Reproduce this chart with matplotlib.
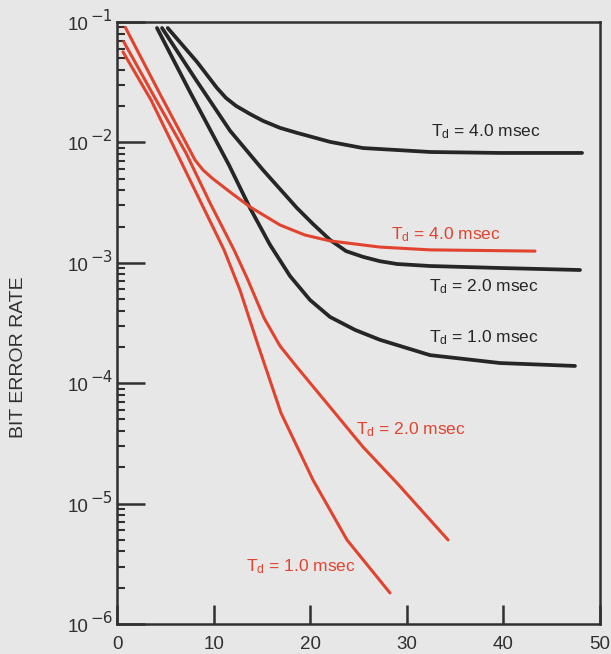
import matplotlib
matplotlib.use("Agg")
import matplotlib.pyplot as plt
from matplotlib.ticker import LogLocator, FixedLocator, NullFormatter, NullLocator

plt.rcParams['font.family'] = ['Liberation Sans', 'DejaVu Sans']
plt.rcParams['mathtext.fontset'] = 'custom'
plt.rcParams['mathtext.rm'] = 'Liberation Sans'
plt.rcParams['mathtext.it'] = 'Liberation Sans'

# ---- data ----
black_1_x = [4.14, 7.56, 11.59, 13.77, 15.84, 17.91, 19.98, 22.05, 24.64, 27.23, 32.40, 39.65, 47.41]
black_1_y = [8.91e-2, 2.62e-2, 6.49e-3, 2.85e-3, 1.41e-3, 7.76e-4, 4.91e-4, 3.55e-4, 2.77e-4, 2.29e-4, 1.71e-4, 1.47e-4, 1.39e-4]

black_2_x = [4.66, 8.18, 11.70, 15.11, 18.63, 20.29, 22.05, 23.71, 25.47, 27.23, 28.99, 32.40, 39.65, 47.93]
black_2_y = [8.91e-2, 3.30e-2, 1.25e-2, 5.90e-3, 2.85e-3, 2.10e-3, 1.55e-3, 1.25e-3, 1.12e-3, 1.03e-3, 9.77e-4, 9.40e-4, 9.05e-4, 8.71e-4]

black_4_x = [5.25, 8.28, 10.35, 11.28, 12.32, 13.77, 15.11, 16.87, 18.63, 22.05, 25.47, 28.99, 32.40, 39.65, 48.14]
black_4_y = [8.91e-2, 4.66e-2, 2.83e-2, 2.34e-2, 2.01e-2, 1.72e-2, 1.51e-2, 1.32e-2, 1.20e-2, 1.01e-2, 8.97e-3, 8.64e-3, 8.32e-3, 8.17e-3, 8.17e-3]

red_4_x = [0.86, 4.45, 7.14, 8.07, 8.90, 9.83, 11.70, 13.77, 16.87, 19.46, 22.05, 27.23, 32.40, 43.27]
red_4_y = [9.03e-2, 2.52e-2, 9.89e-3, 7.15e-3, 5.90e-3, 5.06e-3, 3.87e-3, 2.91e-3, 2.06e-3, 1.70e-3, 1.52e-3, 1.35e-3, 1.28e-3, 1.25e-3]

red_2_x = [0.69, 3.93, 7.14, 9.63, 12.11, 13.46, 15.22, 16.87, 18.63, 22.05, 25.47, 28.99, 34.27]
red_2_y = [6.86e-2, 2.34e-2, 8.17e-3, 3.14e-3, 1.28e-3, 7.48e-4, 3.48e-4, 2.04e-4, 1.36e-4, 6.34e-5, 2.95e-5, 1.48e-5, 4.99e-6]

red_1_x = [0.62, 3.52, 7.35, 11.08, 12.73, 14.60, 16.98, 20.29, 23.81, 28.26]
red_1_y = [5.64e-2, 2.25e-2, 5.26e-3, 1.28e-3, 5.94e-4, 2.07e-4, 5.65e-5, 1.57e-5, 4.99e-6, 1.81e-6]

label_texts = ['4.0 msec', '4.0 msec', '2.0 msec', '1.0 msec', '2.0 msec', '1.0 msec']
label_x = [38.2, 34.0, 38.0, 38.0, 30.4, 19.0]
label_y = [0.0122, 1.70e-3, 6.3e-4, 2.37e-4, 4.1e-5, 2.97e-6]
label_colors = ['black', 'red', 'black', 'black', 'red', 'red']

x_ticks = [0, 10, 20, 30, 40, 50]
y_exponents = [-1, -2, -3, -4, -5, -6]
y_label = 'BIT ERROR RATE'

BG = '#e6e7e6'
RED = '#e2432f'
BLK = '#262626'
INK = '#303030'

fig = plt.figure(figsize=(6.11, 6.54), dpi=100, facecolor=BG)
ax = fig.add_axes([0.1915, 0.0459, 0.7905, 0.9205])
ax.set_facecolor(BG)

for xs, ys in [(black_1_x, black_1_y), (black_2_x, black_2_y), (black_4_x, black_4_y)]:
    ax.plot(xs, ys, color=BLK, lw=2.7, solid_capstyle='round', solid_joinstyle='round')
for xs, ys in [(red_4_x, red_4_y), (red_2_x, red_2_y), (red_1_x, red_1_y)]:
    ax.plot(xs, ys, color=RED, lw=2.2, solid_capstyle='round', solid_joinstyle='round')

for t, x, y, c in zip(label_texts, label_x, label_y, label_colors):
    ax.text(x, y, r'T$_{\mathregular{d}}$ = ' + t, color=(BLK if c == 'black' else RED),
            fontsize=12.5, ha='center', va='center')

ax.set_yscale('log')
ax.set_xlim(0, 50)
ax.set_ylim(1e-6, 1e-1)

ax.xaxis.set_major_locator(FixedLocator(x_ticks))
ax.xaxis.set_minor_locator(NullLocator())
ax.yaxis.set_major_locator(FixedLocator([10.0 ** e for e in y_exponents]))
ax.yaxis.set_minor_locator(LogLocator(base=10, subs=range(2, 10), numticks=20))
ax.yaxis.set_major_formatter(NullFormatter())
ax.yaxis.set_minor_formatter(NullFormatter())

# y tick labels: "10" with a large superscript exponent
for e in y_exponents:
    ax.annotate('10', xy=(0, 10.0 ** e), xycoords=('axes fraction', 'data'),
                xytext=(-29, -8), textcoords='offset pixels', ha='right', va='baseline',
                fontsize=13.5, color=INK, annotation_clip=False)
    ax.annotate('\u2212' + str(-e), xy=(0, 10.0 ** e), xycoords=('axes fraction', 'data'),
                xytext=(-4, 1), textcoords='offset pixels', ha='right', va='baseline',
                fontsize=11, color=INK, family='DejaVu Sans', annotation_clip=False)

ax.tick_params(axis='y', which='major', direction='in', length=20, width=1.8, color=INK)
ax.tick_params(axis='y', which='minor', direction='in', length=6, width=1.5, color=INK)
ax.tick_params(axis='x', which='major', direction='in', length=14, width=1.8,
               labelsize=13.5, labelcolor=INK, color=INK, pad=9)

for s in ax.spines.values():
    s.set_linewidth(1.8)
    s.set_color(INK)

fig.text(19 / 611, 1 - 357 / 654, y_label, rotation=90, fontsize=14, color=INK,
         ha='center', va='center')

fig.savefig('out.png', dpi=100, facecolor=BG)
